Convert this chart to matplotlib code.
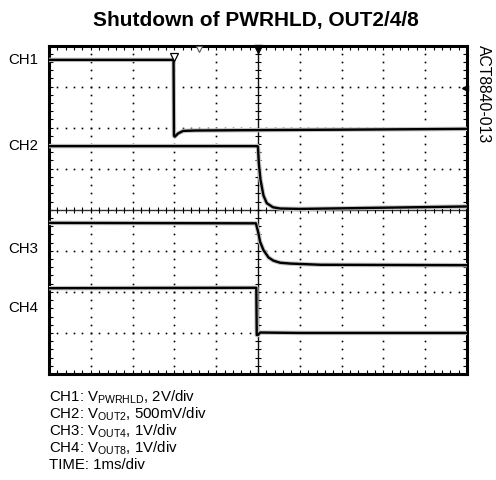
import numpy as np
import matplotlib
matplotlib.use("Agg")
import matplotlib.pyplot as plt

plt.rcParams['font.family'] = ['Liberation Sans', 'DejaVu Sans']
plt.rcParams['mathtext.default'] = 'regular'

# scope traces, in divisions (x: 0..10, y: 0..8)
ch1_t = [0.0, 2.98, 2.99, 3.01, 3.09, 3.21, 3.5, 5.0, 7.0, 10.0]
ch1_v = [7.65, 7.65, 5.80, 5.78, 5.86, 5.92, 5.93, 5.94, 5.95, 5.97]

ch2_t = [0.0, 4.99, 5.0, 5.02, 5.06, 5.13, 5.21, 5.36, 5.53, 6.0, 8.0, 10.0]
ch2_v = [5.55, 5.55, 5.53, 5.13, 4.73, 4.35, 4.16, 4.06, 4.03, 4.02, 4.05, 4.08]

ch3_t = [0.0, 4.95, 5.01, 5.05, 5.13, 5.25, 5.37, 5.53, 5.77, 6.5, 10.0]
ch3_v = [3.68, 3.67, 3.43, 3.22, 3.02, 2.84, 2.76, 2.71, 2.69, 2.66, 2.65]

ch4_t = [0.0, 4.96, 4.97, 5.0, 5.05, 6.0, 10.0]
ch4_v = [2.09, 2.10, 0.95, 0.95, 1.01, 1.0, 1.0]

ch_labels = ['CH1', 'CH2', 'CH3', 'CH4']
ch_label_y = [7.65, 5.55, 3.05, 1.61]

caption = ['CH1: V$_{PWRHLD}$, 2V/div',
           'CH2: V$_{OUT2}$, 500mV/div',
           'CH3: V$_{OUT4}$, 1V/div',
           'CH4: V$_{OUT8}$, 1V/div',
           'TIME: 1ms/div']

fig = plt.figure(figsize=(4.96, 4.8), dpi=100)
ax = fig.add_axes([0.0988, 0.2208, 0.8427, 0.6844])
ax.set_xlim(0, 10)
ax.set_ylim(0, 8)

# dotted graticule
for gx in range(1, 10):
    if gx == 5:
        continue
    yy = np.arange(0.2, 8.0, 0.2)
    ax.plot(np.full_like(yy, gx), yy, ls='none', marker='s', ms=1.2, color='k', mec='none')
for gy in range(1, 8):
    if gy == 4:
        continue
    xx = np.arange(0.2, 10.0, 0.2)
    ax.plot(xx, np.full_like(xx, gy), ls='none', marker='s', ms=1.2, color='k', mec='none')

# centre axes with tick marks
ax.axhline(4, color='#333333', lw=1.0, zorder=2)
ax.axvline(5, color='#111111', lw=1.0, zorder=2)
xx = np.arange(0.2, 10.0, 0.2)
ax.plot(xx, np.full_like(xx, 4), ls='none', marker='|', ms=4, mew=0.8, color='k')
yy = np.arange(0.2, 8.0, 0.2)
ax.plot(np.full_like(yy, 5), yy, ls='none', marker='_', ms=4, mew=0.8, color='k')

for t, v in [(ch1_t, ch1_v), (ch2_t, ch2_v), (ch3_t, ch3_v), (ch4_t, ch4_v)]:
    ax.plot(t, v, color='#c4c4c4', lw=3.2, solid_capstyle='butt', zorder=3)
    ax.plot(t, v, color='k', lw=1.7, solid_capstyle='butt', zorder=4)

# scope markers
ax.plot([2.99], [7.72], marker='v', ms=6, mfc='white', mec='k', mew=0.9, zorder=5, clip_on=False)
ax.plot([3.59], [7.92], marker='v', ms=5, mfc='white', mec='#555555', mew=0.8, zorder=5, clip_on=False)
ax.plot([5.0], [7.92], marker='v', ms=6, color='k', zorder=5, clip_on=False)
ax.plot([9.96], [6.97], marker='<', ms=5, color='k', zorder=5, clip_on=False)

ax.set_xticks([])
ax.set_yticks([])
ax.set_xticks(np.arange(0, 10.01, 0.2), minor=True)
ax.set_yticks(np.arange(0, 8.01, 0.2), minor=True)
ax.tick_params(which='minor', direction='in', length=3, width=0.8,
               top=True, right=True, labelbottom=False, labelleft=False)
for s in ax.spines.values():
    s.set_linewidth(2.2)

for lab, y in zip(ch_labels, ch_label_y):
    ax.text(-0.26, y, lab, ha='right', va='center', fontsize=10.8)

fig.text(0.515, 0.958, 'Shutdown of PWRHLD, OUT2/4/8', ha='center', va='center',
         fontsize=15, fontweight='bold')
fig.text(0.975, 0.906, 'ACT8840-013', rotation=-90, ha='center', va='top', fontsize=11.3)

for i, line in enumerate(caption):
    fig.text(0.0988, 1 - (397.5 + 16.9 * i) / 480, line, ha='left', va='center', fontsize=10.8)

fig.savefig('out.png', dpi=100)
